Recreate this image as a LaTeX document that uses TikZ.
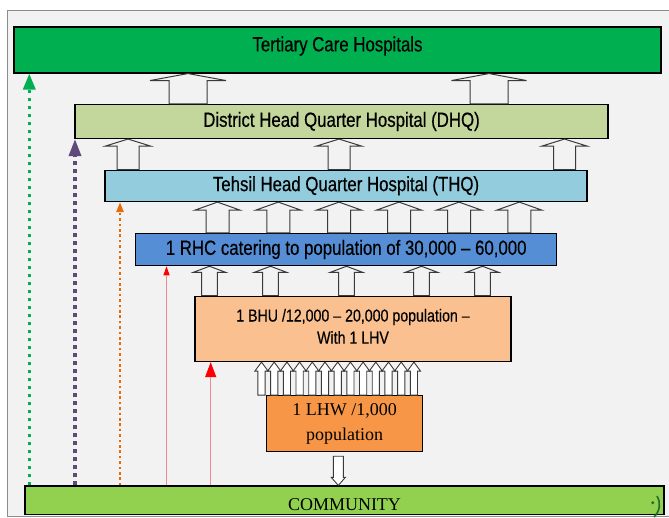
\documentclass[tikz,border=0pt]{standalone}
\usepackage{fontspec}
\setmainfont{Liberation Sans}
\newfontfamily\narrowsf{Liberation Sans}[FakeStretch=0.82,FakeBold=0.4]
\newfontfamily\timesf{Liberation Serif}
\usetikzlibrary{arrows.meta,calc}
\definecolor{bgc}{HTML}{F2F2F2}
\definecolor{framec}{HTML}{8C8C8C}
\definecolor{tertc}{HTML}{00B050}
\definecolor{dhqc}{HTML}{C3D69B}
\definecolor{thqc}{HTML}{93CDDD}
\definecolor{rhcc}{HTML}{558ED5}
\definecolor{bhuc}{HTML}{FAC090}
\definecolor{lhwc}{HTML}{F79646}
\definecolor{commc}{HTML}{92D050}
\definecolor{greenc}{HTML}{00B050}
\definecolor{purplec}{HTML}{604A7B}
\definecolor{orangec}{HTML}{E46C0A}
\definecolor{pinkc}{HTML}{F08A8A}
\definecolor{redc}{HTML}{FF0000}
\definecolor{arrc}{HTML}{3A3A3A}
\definecolor{darkgreenc}{HTML}{1F6B2A}
% up block arrow: #1 x, #2 upper anchor, #3 lower anchor, #4 shaft half width, #5 head half width, #6 head height, #7 style
\newcommand\blkup[7]{%
  \path[#7] let \p1=(#2), \p2=(#3) in
    (#1pt-#4pt,\y2) -- (#1pt-#4pt,\y1-#6pt) -- (#1pt-#5pt,\y1-#6pt) -- (#1pt,\y1)
    -- (#1pt+#5pt,\y1-#6pt) -- (#1pt+#4pt,\y1-#6pt) -- (#1pt+#4pt,\y2) -- cycle;}
% down block arrow: #1 x, #2 upper anchor, #3 lower anchor, #4 shaft half, #5 head half, #6 head height, #7 gap, #8 style
\newcommand\blkdown[8]{%
  \path[#8] let \p1=(#2), \p2=(#3) in
    (#1pt-#4pt,\y1-#7pt) -- (#1pt-#4pt,\y2+#6pt) -- (#1pt-#5pt,\y2+#6pt) -- (#1pt,\y2)
    -- (#1pt+#5pt,\y2+#6pt) -- (#1pt+#4pt,\y2+#6pt) -- (#1pt+#4pt,\y1-#7pt) -- cycle;}
\begin{document}
\begin{tikzpicture}[x=1pt,y=-1pt,
  box/.style={draw=black, line width=1.1pt, inner sep=0pt, text=black, align=center},
  topfont/.style={font=\narrowsf\fontsize{20.5}{24}\selectfont},
  bigarrow/.style={draw=arrc, line width=1pt, line join=miter},
  smallarrow/.style={draw=arrc, line width=0.9pt, fill=white, line join=miter},
  gdot/.style={draw=greenc, line width=3.3pt, dash pattern=on 3.6pt off 4.4pt, -{Triangle[length=16pt,width=12pt]}, greenc},
  pdot/.style={draw=purplec, line width=3.3pt, dash pattern=on 4.4pt off 3.6pt, -{Triangle[length=17pt,width=12pt]}, purplec},
  odot/.style={draw=orangec, line width=2.4pt, dash pattern=on 2.6pt off 2.8pt, -{Triangle[length=10pt,width=7pt]}, orangec},
  redline/.style={draw=pinkc, line width=0.9pt}
]
\useasboundingbox (0,0) rectangle (669,517);
\clip (0,0) rectangle (669,517);
\fill[white] (0,0) rectangle (669,517);
\filldraw[fill=bgc, draw=framec, line width=1pt] (7.5,10.5) rectangle (700,516);

% boxes
\node[box, topfont, fill=tertc, minimum width=647pt, minimum height=46pt, text height=14.7pt, text depth=12pt] (tert) at (337.5,50)
  {Tertiary Care Hospitals};
\node[box, topfont, fill=dhqc, minimum width=533pt, minimum height=34pt] (dhq) at (341.5,121.5)
  {District Head Quarter Hospital (DHQ)};
\node[box, topfont, fill=thqc, minimum width=482pt, minimum height=31.5pt] (thq) at (346,185.8)
  {Tehsil Head Quarter Hospital (THQ)};
\node[box, topfont, fill=rhcc, minimum width=421pt, minimum height=32.4pt] (rhc) at (346.2,249.5)
  {1 RHC catering to population of 30,000 – 60,000};
\node[box, font=\narrowsf\fontsize{17.3}{22.5}\selectfont, fill=bhuc, minimum width=316pt, minimum height=65.5pt] (bhu) at (353,328.8)
  {\raisebox{5pt}{\shortstack{1 BHU /12,000 – 20,000 population –\\[3pt]With 1 LHV}}};
\node[box, font=\timesf\fontsize{18}{25}\selectfont, fill=lhwc, minimum width=156pt, minimum height=56pt] (lhw) at (344.7,423.7)
  {1 LHW /1,000\\population};
\node[box, font=\timesf\fontsize{18}{22}\selectfont, fill=commc, minimum width=639pt, minimum height=28.5pt, text height=20pt, text depth=0pt] (comm) at (344.5,500.2)
  {COMMUNITY};

% block arrows tertiary <- DHQ
\blkup{188}{tert.south}{dhq.north}{19}{38}{7}{bigarrow}
\blkup{489}{tert.south}{dhq.north}{19}{37.5}{7}{bigarrow}
% DHQ <- THQ
\foreach \cx in {128,339,564.5}{\blkup{\cx}{dhq.south}{thq.north}{11}{22.5}{7}{bigarrow}}
% THQ <- RHC
\foreach \cx in {217.5,278.3,339,399,459,519.3}{\blkup{\cx}{thq.south}{rhc.north}{11.5}{22.5}{8}{bigarrow}}
% RHC <- BHU
\foreach \cx in {209.5,270.5,346.5,421.5,482.5}{\blkup{\cx}{rhc.south}{bhu.north}{7.8}{16}{6}{bigarrow}}
% BHU <- LHW
\foreach \i in {0,...,12}{\pgfmathsetmacro\cx{261.5+12.7*\i}\blkup{\cx}{bhu.south}{lhw.north}{3.6}{6.6}{9}{smallarrow}}
% LHW -> community
\blkdown{338.3}{lhw.south}{comm.north}{5}{7}{8}{4}{smallarrow}

% dotted and thin arrows from community
\coordinate (xg) at (29.3,0);
\coordinate (xp) at (75,0);
\coordinate (xo) at (120,0);
\coordinate (xr) at (166.5,0);
\coordinate (xs) at (210.7,0);
\draw[gdot] (comm.north -| xg) -- (tert.south -| xg);
\draw[pdot] (comm.north -| xp) -- (dhq.south -| xp);
\draw[odot] (comm.north -| xo) -- (thq.south -| xo);
\draw[redline, -{Triangle[length=9pt,width=6pt]}, redc] (comm.north -| xr) -- (rhc.south -| xr);
\draw[redline, -{Triangle[length=15pt,width=11pt]}, redc] (comm.north -| xs) -- (bhu.south -| xs);
\draw[redline] (comm.north -| xr) -- ($(rhc.south -| xr)+(0,9)$);
\draw[redline] (comm.north -| xs) -- ($(bhu.south -| xs)+(0,15)$);

% small mark at the right end of the community bar
\fill[darkgreenc] (652.7,502.7) circle (1.6pt);
\draw[darkgreenc, line width=1.6pt] (657,496) .. controls (661,503) and (660,511) .. (654,517);
\end{tikzpicture}
\end{document}
